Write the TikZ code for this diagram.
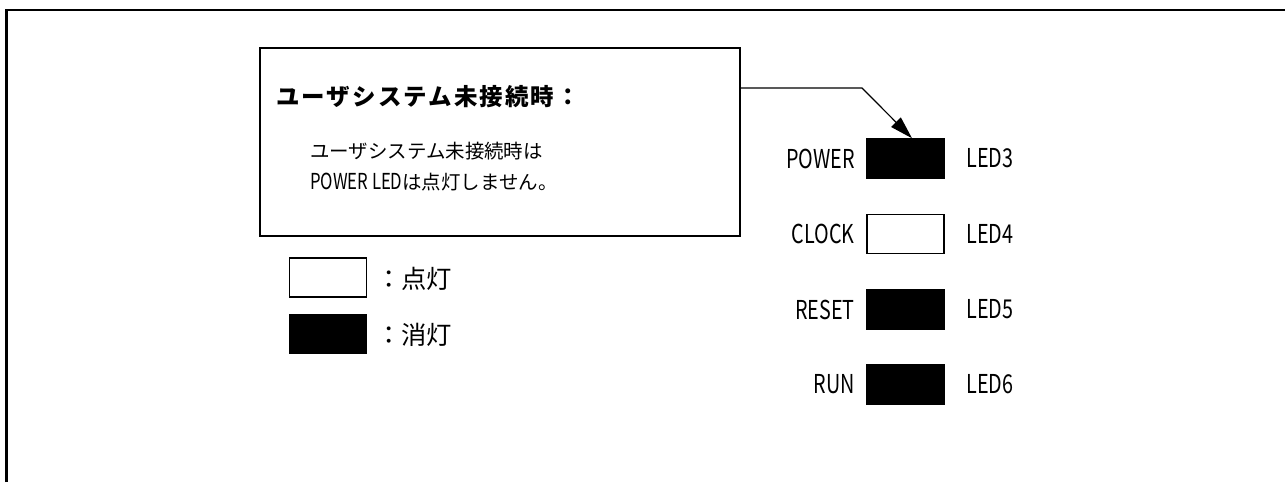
\documentclass[tikz,border=0pt]{standalone}
\usepackage{fontspec}
\setmainfont{Noto Sans CJK JP}
\newfontfamily\narrowA{Noto Sans CJK JP}[FakeStretch=0.76]
\newfontfamily\titlefont{Noto Sans CJK JP}[LetterSpace=9]
\usetikzlibrary{arrows.meta,calc}
\tikzset{
  ledbase/.style={draw, line width=1.1pt, inner sep=0pt, minimum width=57.75pt, minimum height=29.25pt},
  ledon/.style={ledbase, fill=white},
  ledoff/.style={ledbase, fill=black},
  lbl/.style={inner sep=0pt, font=\narrowA\fontsize{19.5pt}{22pt}\selectfont},
  legtxt/.style={inner sep=0pt, anchor=west, font=\fontsize{19pt}{22pt}\selectfont},
  bodytxt/.style={inner sep=0pt, anchor=west, font=\fontsize{14.6pt}{17pt}\selectfont},
  frameline/.style={line width=1.9pt},
  boxline/.style={draw, line width=1.1pt},
  arrowline/.style={line width=0.9pt, -{Triangle[length=17pt, width=10pt]}}
}
\begin{document}
\begin{tikzpicture}[x=0.75pt,y=-0.75pt]
\useasboundingbox (0,0) rectangle (1285,482);
% outer frame
\draw[frameline] (6.5,482) -- (6.5,10) -- (1285,10);
% callout box
\node[boxline, inner sep=0pt, minimum width=360pt, minimum height=141pt] (callout) at (500,142) {};
\node[inner sep=0pt, anchor=west, font=\titlefont\bfseries\fontsize{17.6pt}{20pt}\selectfont] (title) at (276,97) {ユーザシステム未接続時：};
\node[bodytxt] (body1) at (310,151) {ユーザシステム未接続時は};
\node[bodytxt] (body2) at (310,182) {{\narrowA\fontsize{16.5pt}{17pt}\selectfont POWER LED}は点灯しません。};
% LEDs
\node[ledoff] (led3) at (905.5,158.5) {};
\node[ledon]  (led4) at (905.5,234) {};
\node[ledoff] (led5) at (905.5,309.5) {};
\node[ledoff] (led6) at (905.5,384.5) {};
\node[lbl, anchor=east] (n3) at (855,158.5) {POWER};
\node[lbl, anchor=east] (n4) at (855,234) {CLOCK};
\node[lbl, anchor=east] (n5) at (855,309.5) {RESET};
\node[lbl, anchor=east] (n6) at (855,384.5) {RUN};
\node[lbl, anchor=west] (l3) at (966,158.5) {LED3};
\node[lbl, anchor=west] (l4) at (966,234) {LED4};
\node[lbl, anchor=west] (l5) at (966,309.5) {LED5};
\node[lbl, anchor=west] (l6) at (966,384.5) {LED6};
% legend
\node[ledon]  (legon)  at (328,277.5) {};
\node[ledoff] (legoff) at (328,334) {};
\node[legtxt] (legontxt)  at (376,279) {：点灯};
\node[legtxt] (legofftxt) at (376,335) {：消灯};
% arrow
\coordinate (bend) at (862,88);
\draw[arrowline] (callout.east |- bend) -- (bend) -- ($(led3.north)+(6.5,0)$);
\end{tikzpicture}
\end{document}
